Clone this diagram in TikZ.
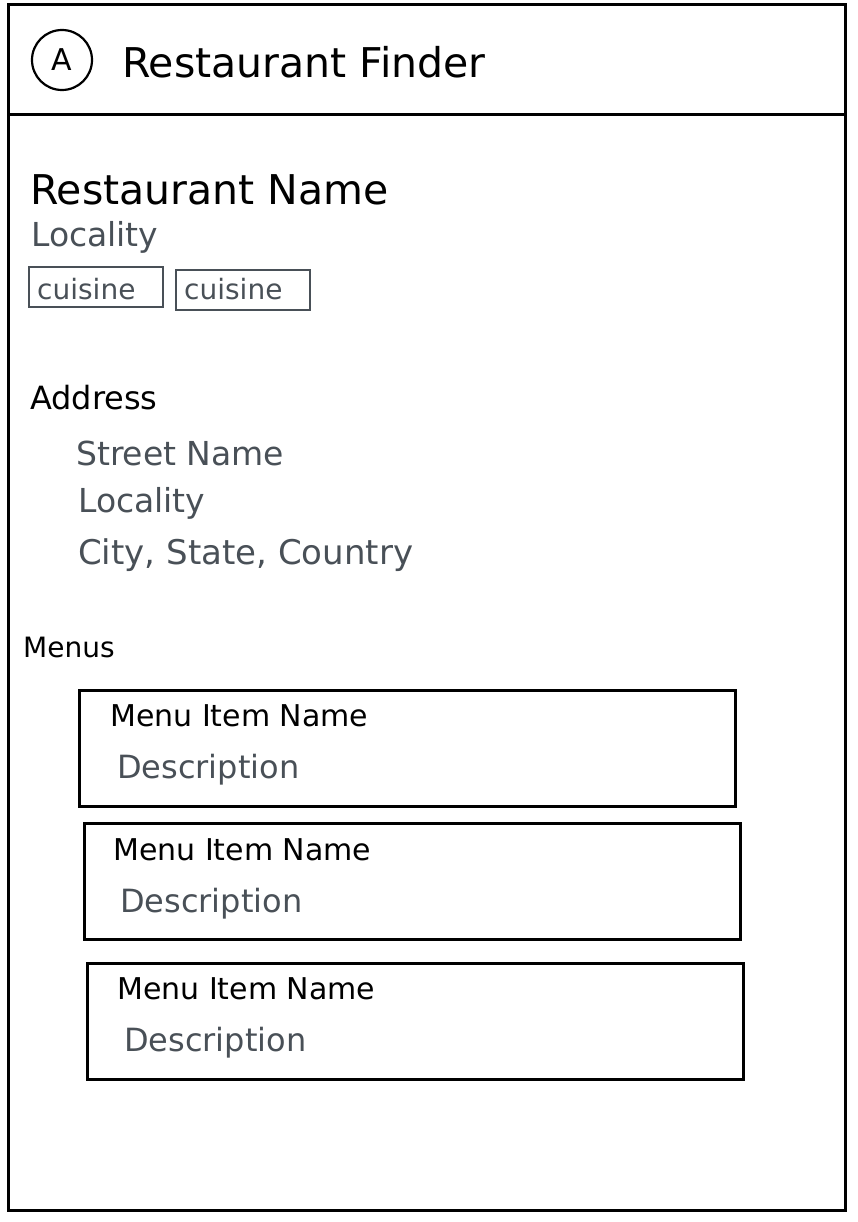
\documentclass[tikz,border=0pt]{standalone}
\usepackage{fontspec}
\setmainfont{DejaVu Sans}
\definecolor{pencil}{HTML}{495057}
\tikzset{
  frame/.style={draw=black, line width=3pt},
  label/.style={anchor=west, inner sep=0pt, text=black},
  soft/.style={label, text=pencil},
  tagbox/.style={draw=pencil, line width=2.2pt, minimum height=40pt, minimum width=134pt, inner sep=0pt},
  itembox/.style={draw=black, line width=3pt, minimum height=116pt, minimum width=656pt, inner sep=0pt}
}
\newcommand{\fs}[1]{\fontsize{#1}{#1}\selectfont}
\begin{document}
\begin{tikzpicture}[x=1pt, y=-1pt]
				\useasboundingbox (0,0) rectangle (858,1222);
				% page frame and header
				\draw[frame] (8,5) rectangle (845,1210);
				\coordinate (hl) at (8,115);
				\coordinate (hr) at (845,115);
				\draw[frame] (hl) -- (hr);
				\node[draw, circle, line width=2.2pt, minimum size=60pt, inner sep=0pt] (logo) at (62,60) {\fs{30}A};
				\node[label] (title) at (122,62) {\fs{41}Restaurant Finder};
				% restaurant
				\node[label] (rname) at (30,190) {\fs{41}Restaurant Name};
				\node[soft] (rloc) at (31,237) {\fs{33}Locality};
				\node[tagbox] (cuisA) at (96,287) {};
				\node[soft] at (37,289) {\fs{28}cuisine};
				\node[tagbox] (cuisB) at (243,290) {};
				\node[soft] at (184,289) {\fs{28}cuisine};
				% address
				\node[label] (addr) at (30,398) {\fs{32}Address};
				\node[soft] (street) at (76,453) {\fs{33}Street Name};
				\node[soft] (aloc) at (78,503) {\fs{33}Locality};
				\node[soft] (city) at (78,555) {\fs{34}City, State, Country};
				% menus
				\node[label] (menus) at (23,647) {\fs{28}Menus};
				\node[itembox] (itemA) at (407,748) {};
				\node[label] (nameA) at (110,716) {\fs{30}Menu Item Name};
				\node[soft] (descA) at (117,770) {\fs{32}Description};
				\node[itembox] (itemB) at (412,881) {};
				\node[label] (nameB) at (113,850) {\fs{30}Menu Item Name};
				\node[soft] (descB) at (120,904) {\fs{32}Description};
				\node[itembox] (itemC) at (415,1021) {};
				\node[label] (nameC) at (117,989) {\fs{30}Menu Item Name};
				\node[soft] (descC) at (124,1043) {\fs{32}Description};
\end{tikzpicture}
\end{document}
